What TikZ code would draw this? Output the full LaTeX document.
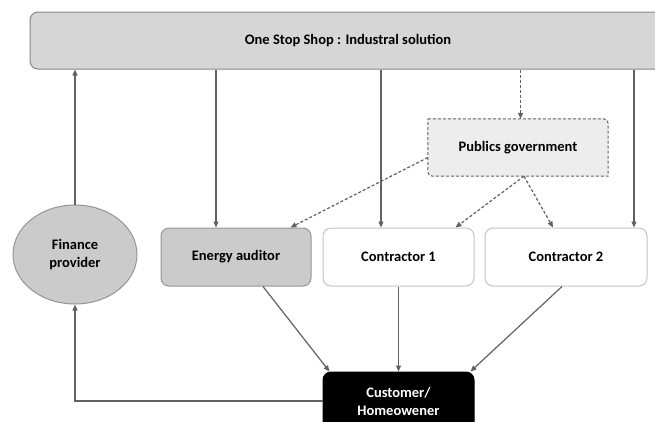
\documentclass[tikz,border=0pt]{standalone}
\usepackage{fontspec}
\setmainfont{Carlito}
\usetikzlibrary{arrows.meta,shapes.geometric,backgrounds}

\definecolor{linegray}{HTML}{616161}
\definecolor{barfill}{HTML}{D6D6D6}
\definecolor{barline}{HTML}{878787}
\definecolor{auditfill}{HTML}{CBCBCB}
\definecolor{auditline}{HTML}{959595}
\definecolor{boxline}{HTML}{C4C4C4}
\definecolor{govfill}{HTML}{EDEDED}

\begin{document}
\begin{tikzpicture}[x=1pt, y=-1pt,
    every node/.style={font=\fontsize{14.5}{18}\selectfont\bfseries, align=center},
    box/.style={rectangle, rounded corners=8pt, minimum width=151pt, minimum height=58pt, line width=1pt},
    arr/.style={draw=linegray, line width=1.2pt, -{Triangle[length=6pt,width=5pt]}},
    darr/.style={arr, dash pattern=on 3pt off 2pt}]
    \useasboundingbox (0,0) rectangle (655,421);
    \clip (0,0) rectangle (655,421);

    % --- 1. One Stop Shop ---
    \node[box, minimum width=636pt, minimum height=57pt, fill=barfill, draw=barline] (oss) at (348,40.5) {One Stop Shop : Industral solution};

    % --- 2. Publics government (dashed, two round corners) ---
    \node[inner sep=0pt, minimum width=180pt, minimum height=57pt] (pub) at (518,147.5) {Publics government};
    \begin{scope}[on background layer]
        \filldraw[fill=govfill, draw=linegray, line width=1pt, dash pattern=on 3pt off 2pt]
            (pub.north west) -- ([xshift=-10pt]pub.north east)
            .. controls (pub.north east) .. ([yshift=-10pt]pub.north east)
            -- (pub.south east) -- ([xshift=10pt]pub.south west)
            .. controls (pub.south west) .. ([yshift=10pt]pub.south west) -- cycle;
    \end{scope}

    % --- 3. Actors ---
    \node[ellipse, minimum width=124pt, minimum height=99pt, fill=auditfill, draw=auditline, line width=1pt] (fin) at (75,254.5) {Finance\\provider};
    \node[box, minimum width=150pt, fill=auditfill, draw=auditline] (ea) at (236,257) {Energy auditor};
    \node[box, fill=white, draw=boxline] (c1) at (398.5,257) {Contractor 1};
    \node[box, minimum width=162pt, fill=white, draw=boxline] (c2) at (566,257) {Contractor 2};
    \node[box, fill=black, draw=black, text=white] (cust) at (398.5,401) {Customer/\\Homeowener};

    % entry points on the boxes
    \coordinate (eaIn) at ([xshift=-20pt]ea.north);
    \coordinate (c1In) at ([xshift=-17.5pt]c1.north);
    \coordinate (c2In) at ([xshift=68pt]c2.north);
    \coordinate (pubIn) at ([xshift=2.5pt]pub.north);

    % --- 4. One Stop Shop links ---
    \draw[arr] (fin.north) -- (fin.north |- oss.south);
    \draw[arr] (oss.south -| eaIn) -- (eaIn);
    \draw[arr] (oss.south -| c1In) -- (c1In);
    \draw[arr] (oss.south -| c2In) -- (c2In);
    \draw[darr] (oss.south -| pubIn) -- (pubIn);

    % --- 5. Government links (dashed) ---
    \draw[darr] ([yshift=-10pt]pub.west) -- ([xshift=-21pt]ea.north east);
    \draw[darr] ([xshift=6pt]pub.south) -- ([xshift=-19pt]c1.north east);
    \draw[darr] ([xshift=6pt]pub.south) -- ([xshift=-13pt]c2.north);

    % --- 6. To the customer and back to finance ---
    \draw[arr] ([xshift=27pt]ea.south) -- ([xshift=7pt]cust.north west);
    \draw[arr] (c1.south) -- (cust.north);
    \draw[arr] ([xshift=-4pt]c2.south) -- ([xshift=-4pt]cust.north east);
    \draw[arr] (cust.west) -| (fin.south);
\end{tikzpicture}
\end{document}
